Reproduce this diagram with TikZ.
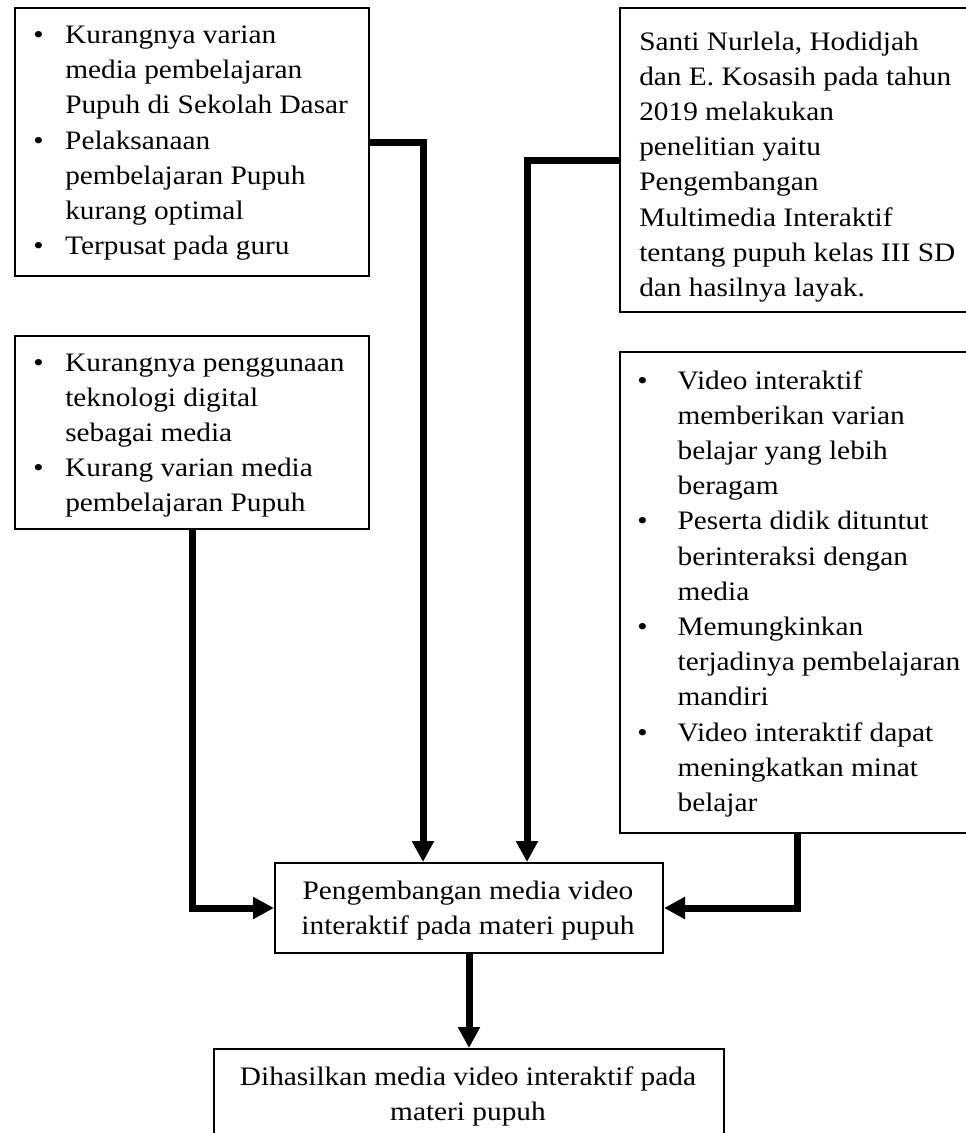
\documentclass[tikz,border=0pt]{standalone}
\usepackage{fontspec}
\setmainfont{Liberation Serif}[FakeStretch=1.1]
\usetikzlibrary{arrows.meta}
\newcommand\bulit[1][24pt]{\makebox[#1][l]{\textbullet}}
\newcommand\indt[1][24pt]{\hspace*{#1}}
\begin{document}
\begin{tikzpicture}[x=0.75pt,y=-0.75pt,
  box/.style={draw, line width=1.5pt, rectangle, inner sep=0pt, anchor=north west},
  txt/.style={inner sep=0pt, anchor=base west, font=\fontsize{20pt}{26.4pt}\selectfont},
  ctxt/.style={inner sep=0pt, anchor=base, font=\fontsize{20pt}{26.4pt}\selectfont},
  conn/.style={line width=5.25pt, -{Triangle[length=15.75pt,width=15.75pt]}}]
\useasboundingbox (0,0) rectangle (966,1133);
\clip (0,0) rectangle (966,1133);

% boxes
\node[box, minimum width=265.5pt, minimum height=201pt] (A) at (14,7) {};
\node[box, minimum width=265.5pt, minimum height=228pt] (B) at (619,7) {};
\node[box, minimum width=265.5pt, minimum height=144.75pt] (C) at (14,335) {};
\node[box, minimum width=265.5pt, minimum height=360.75pt] (D) at (619,351) {};
\node[box, minimum width=291pt, minimum height=67.5pt] (E) at (274,862) {};
\node[box, minimum width=382.5pt, minimum height=90pt] (F) at (213,1048) {};

% texts
\node[txt] (At) at (33,43.5) {\begin{tabular}[t]{@{}l@{}}
\bulit Kurangnya varian\\
\indt media pembelajaran\\
\indt Pupuh di Sekolah Dasar\\
\bulit Pelaksanaan\\
\indt pembelajaran Pupuh\\
\indt kurang optimal\\
\bulit Terpusat pada guru
\end{tabular}};

\node[txt] (Bt) at (639,50) {\begin{tabular}[t]{@{}l@{}}
Santi Nurlela, Hodidjah\\
dan E. Kosasih pada tahun\\
2019 melakukan\\
penelitian yaitu\\
Pengembangan\\
Multimedia Interaktif\\
tentang pupuh kelas III SD\\
dan hasilnya layak.
\end{tabular}};

\node[txt] (Ct) at (33,371) {\begin{tabular}[t]{@{}l@{}}
\bulit Kurangnya penggunaan\\
\indt teknologi digital\\
\indt sebagai media\\
\bulit Kurang varian media\\
\indt pembelajaran Pupuh
\end{tabular}};

\node[txt] (Dt) at (637,389) {\begin{tabular}[t]{@{}l@{}}
\bulit[24.75pt] Video interaktif\\
\indt[24.75pt] memberikan varian\\
\indt[24.75pt] belajar yang lebih\\
\indt[24.75pt] beragam\\
\bulit[24.75pt] Peserta didik dituntut\\
\indt[24.75pt] berinteraksi dengan\\
\indt[24.75pt] media\\
\bulit[24.75pt] Memungkinkan\\
\indt[24.75pt] terjadinya pembelajaran\\
\indt[24.75pt] mandiri\\
\bulit[24.75pt] Video interaktif dapat\\
\indt[24.75pt] meningkatkan minat\\
\indt[24.75pt] belajar
\end{tabular}};

\node[ctxt] (Et) at (468,899) {\begin{tabular}[t]{@{}c@{}}
Pengembangan media video\\
interaktif pada materi pupuh
\end{tabular}};

\node[ctxt] (Ft) at (468,1085) {\begin{tabular}[t]{@{}c@{}}
Dihasilkan media video interaktif pada\\
materi pupuh
\end{tabular}};

% connectors
\draw[conn] (A.east) -| ([xshift=-34.5pt]E.north);
\draw[conn] (B.west) -| ([xshift=43.5pt]E.north);
\draw[conn] (C.south) |- (E.west);
\draw[conn] (D.south) |- (E.east);
\draw[conn] (E.south) -- (F.north);
\end{tikzpicture}
\end{document}
